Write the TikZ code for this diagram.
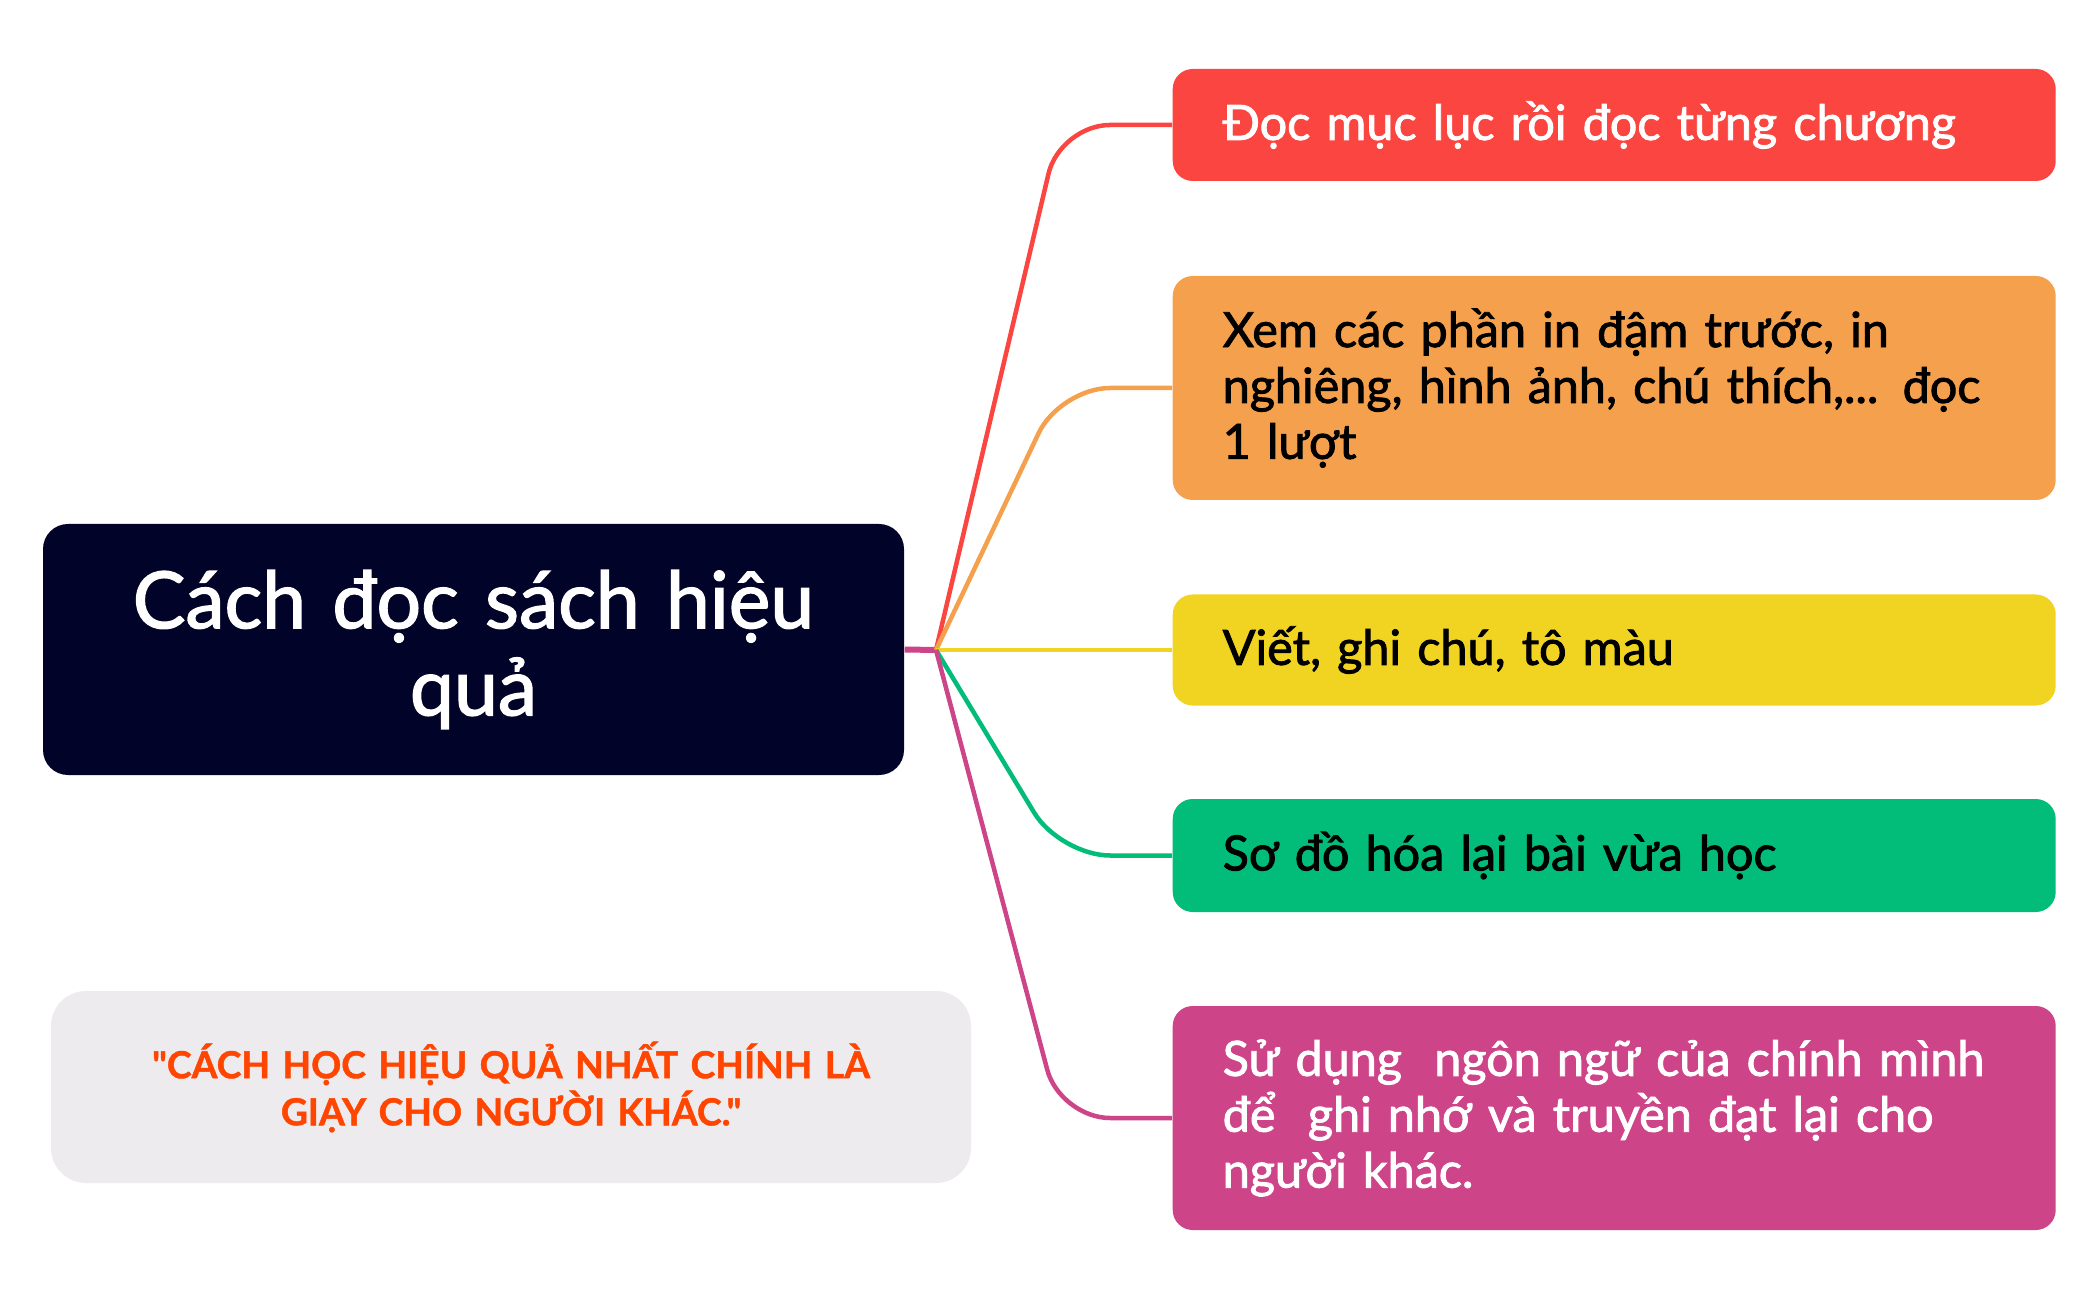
\documentclass[tikz,border=0pt]{standalone}
\usepackage{fontspec}
\setmainfont{Lato}[Ligatures=TeXOff, UprightFeatures={FakeBold=1.8}, BoldFeatures={FakeBold=1.2}]
\definecolor{cRed}{HTML}{FA4540}
\definecolor{cOrange}{HTML}{F4A04C}
\definecolor{cYellow}{HTML}{F1D322}
\definecolor{cGreen}{HTML}{02BC7A}
\definecolor{cPurple}{HTML}{CE4489}
\definecolor{cNavy}{HTML}{010328}
\definecolor{cQuoteBg}{HTML}{EDEBEE}
\definecolor{cQuoteTx}{HTML}{FF4500}
\begin{document}
\begin{tikzpicture}[x=1cm,y=1cm,
  child/.style={rectangle, rounded corners=0.2cm, anchor=west, text width=7.83cm,
    inner xsep=0.5cm, inner ysep=0pt, align=left,
    font=\fontsize{13.8}{15.9}\selectfont},
  link/.style={line width=0.045cm, rounded corners=0.5cm},
]
\useasboundingbox (0,0) rectangle (20.94,-13);
\fill[white] (0,0) rectangle (20.94,-13);

\node[rectangle, rounded corners=0.25cm, fill=cNavy, text=white, minimum width=8.61cm,
  minimum height=2.51cm, text width=8cm, align=center,
  font=\fontsize{22.4}{24.8}\selectfont] (root) at (4.735,-6.495) {Cách đọc sách hiệu\\quả};

\node[rectangle, rounded corners=0.35cm, fill=cQuoteBg, text=cQuoteTx, minimum width=9.2cm,
  minimum height=1.92cm, text width=8.4cm, align=center,
  font=\bfseries\fontsize{10.6}{13.4}\selectfont] (quote) at (5.11,-10.87)
  {"CÁCH HỌC HIỆU QUẢ NHẤT CHÍNH LÀ\\GIẠY CHO NGƯỜI KHÁC."};

\node[child, fill=cRed, text=white, minimum height=1.12cm] (c1) at (11.72,-1.25)
  {Đọc mục lục rồi đọc từng chương};
\node[child, fill=cOrange, text=black, minimum height=2.24cm] (c2) at (11.72,-3.88)
  {Xem các phần in đậm trước, in\\nghiêng, hình ảnh, chú thích,... đọc\\1 lượt};
\node[child, fill=cYellow, text=black, minimum height=1.11cm] (c3) at (11.72,-6.50)
  {Viết, ghi chú, tô màu};
\node[child, fill=cGreen, text=black, minimum height=1.13cm] (c4) at (11.72,-8.555)
  {Sơ đồ hóa lại bài vừa học};
\node[child, fill=cPurple, text=white, minimum height=2.24cm] (c5) at (11.72,-11.18)
  {Sử dụng\ \ ngôn ngữ của chính mình\\để\ \ ghi nhớ và truyền đạt lại cho\\người khác.};

\coordinate (J) at (9.36,-6.50);
\draw[line width=0.06cm, cPurple] (root.east) -- (J);
\draw[link, cRed] (J) -- ([xshift=-1.12cm]c1.west) -- (c1.west);
\draw[link, cOrange] (J) -- ([xshift=-1.12cm]c2.west) -- (c2.west);
\draw[link, cYellow] (J) -- (c3.west);
\draw[link, cGreen] (J) -- ([xshift=-1.12cm]c4.west) -- (c4.west);
\draw[link, cPurple] (J) -- ([xshift=-1.12cm]c5.west) -- (c5.west);
\end{tikzpicture}
\end{document}
